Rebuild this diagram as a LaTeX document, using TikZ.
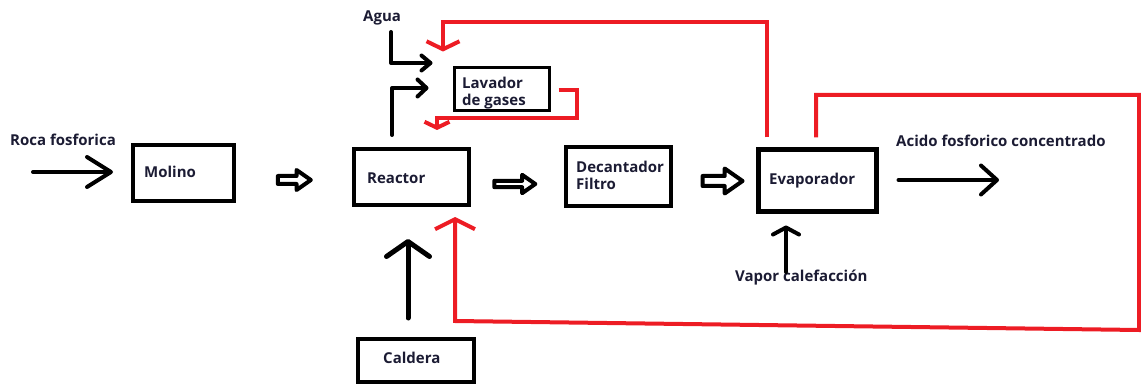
\documentclass[tikz,border=0pt]{standalone}
\usepackage{fontspec}
\setmainfont{Open Sans}
\usetikzlibrary{arrows.meta,shapes.arrows,calc}
\definecolor{pred}{HTML}{ED1C24}
\definecolor{txt}{HTML}{1B1B33}
\begin{document}
\begin{tikzpicture}[x=1pt,y=-1pt,
  box/.style={draw=black, line width=4pt, inner sep=0pt},
  lbl/.style={anchor=west, inner sep=0pt, text=txt, font=\bfseries\fontsize{15}{17}\selectfont, align=left},
  bline/.style={draw=black, line width=4pt, line cap=round, line join=round},
  rline/.style={draw=pred, line width=4pt, line join=miter},
  blk/.style={single arrow, draw=black, fill=white, line width=4pt, line join=round, inner sep=0pt, single arrow tip angle=70}
]
\useasboundingbox (0,0) rectangle (1141,385);

% boxes
\node[box, minimum width=101pt, minimum height=56pt] (molino) at (183.5,173) {};
\node[box, minimum width=115pt, minimum height=56pt] (reactor) at (411.5,177) {};
\node[box, minimum width=105pt, minimum height=59pt] (decant) at (618.5,176.5) {};
\node[box, line width=5pt, minimum width=118pt, minimum height=62pt] (evap) at (817.5,180.5) {};
\node[box, line width=3pt, minimum width=95pt, minimum height=43pt] (lavador) at (502,89) {};
\node[box, minimum width=116pt, minimum height=43pt] (caldera) at (416,360.5) {};

% labels
\node[lbl] (tRoca) at (10,140) {Roca fosforica};
\node[lbl] (tMolino) at (144,172) {Molino};
\node[lbl] (tReactor) at (367,178) {Reactor};
\node[lbl] (tDecant) at (576,175) {Decantador\\Filtro};
\node[lbl] (tLav) at (462,93) {Lavador\\de gases};
\node[lbl] (tEvap) at (769,181) {Evaporador};
\node[lbl] (tCald) at (383,358) {Caldera};
\node[lbl] (tAgua) at (363,18) {Agua};
\node[lbl] (tVapor) at (735,278) {Vapor calefacción};
\node[lbl] (tAcido) at (896,141) {Acido fosforico concentrado};

% block arrows
\node[blk, inner ysep=2pt, single arrow head extend=6pt, minimum height=33pt] (b1) at (291.5,180) {};
\node[blk, inner ysep=1.2pt, single arrow head extend=6pt, minimum height=41pt] (b2) at (512.5,184) {};
\node[blk, inner ysep=3pt, single arrow head extend=7.5pt, minimum height=40pt] (b3) at (719,181) {};

% free ends
\coordinate (rocaA) at (33,172);
\coordinate (aguaA) at (391,32);
\coordinate (vapA) at (786,272);
\coordinate (acidoE) at (999,180);

% black arrows
\draw[bline, shorten >=18pt, -{Straight Barb[round,length=24pt,width=30pt]}]
  (rocaA) -- (rocaA -| molino.west);
\draw[bline, shorten >=20.5pt, -{Straight Barb[round,length=9pt,width=15pt]}]
  (aguaA) |- (lavador.west |- 0,63);
\draw[bline, shorten <=12pt, shorten >=24.5pt, -{Straight Barb[round,length=9pt,width=17pt]}]
  (reactor.north -| 392,0) |- (lavador.west |- 0,88);
\draw[bline, line width=5pt, shorten <=19pt, shorten >=32pt, -{Straight Barb[round,length=15pt,width=43pt]}]
  (caldera.north -| 408,0) -- (reactor.south -| 408,0);
\draw[bline, shorten >=11.5pt, -{Straight Barb[round,length=7pt,width=26pt]}]
  (vapA) -- (evap.south -| 786,0);
\draw[bline, shorten <=19.5pt, -{Straight Barb[round,length=16pt,width=29pt]}]
  (evap.east |- 0,180) -- (acidoE);

% red recycle lines
\draw[rline, shorten <=9.5pt, shorten >=14.5pt, -{Straight Barb[length=8pt,width=33pt]}]
  (evap.north -| 767,0) -- (767,22) -- (443,22) -- (lavador.north -| 443,0);
\draw[rline, shorten <=7.5pt, shorten >=17pt, -{Straight Barb[length=6pt,width=25pt]}]
  (lavador.east |- 0,90) -| (577,118) -| (reactor.north -| 437,0);
\draw[rline, shorten <=9.5pt, shorten >=10pt, -{Straight Barb[length=10pt,width=40pt]}]
  (evap.north -| 816,0) -- (816,95) -- (1139,95) -- (1139,330) -- (455,321) -- (reactor.south -| 455,0);
\end{tikzpicture}
\end{document}
